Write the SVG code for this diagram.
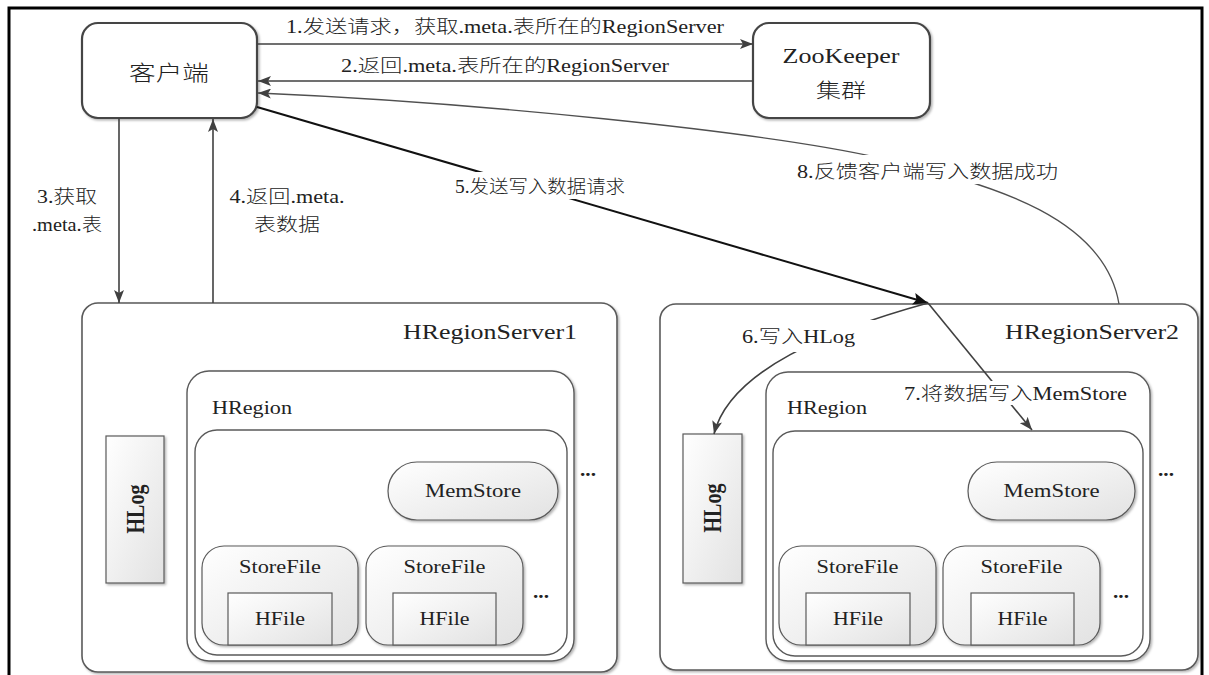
<svg xmlns="http://www.w3.org/2000/svg" width="1209" height="675" viewBox="0 0 1209 675">
<defs>
<style>
text{font-family:"Liberation Serif","Noto Sans CJK SC",serif;fill:#222;font-weight:300}
.lbl{font-size:18px}
.box{fill:#fff;stroke:#454545;stroke-width:2.2}
.srv{fill:#fff;stroke:#5a5a5a;stroke-width:1.6}
.reg{fill:#fff;stroke:#5a5a5a;stroke-width:1.4}
.comp{fill:url(#g);stroke:#5a5a5a;stroke-width:1.2}
.ln{fill:none;stroke:#404040;stroke-width:1.6}
.thin{fill:none;stroke:#505050;stroke-width:1.3}
.bk{fill:none;stroke:#111;stroke-width:2}
.bg{fill:#fff}
.dots{font-size:18px;font-weight:bold}
.sm{font-size:18px}
.hl{font-size:20px;font-weight:bold}
</style>
<linearGradient id="g" x1="0" y1="0" x2="1" y2="1"><stop offset="0" stop-color="#ffffff"/><stop offset="1" stop-color="#e2e2e2"/></linearGradient>
<filter id="sh" x="-5%" y="-5%" width="115%" height="115%"><feDropShadow dx="1.5" dy="1.5" stdDeviation="1.2" flood-color="#000" flood-opacity="0.3"/></filter>
<marker id="ah" markerUnits="userSpaceOnUse" markerWidth="14" markerHeight="10" refX="13" refY="5" orient="auto"><path d="M0,0 L13,5 L0,10 L3,5 z" fill="#404040"/></marker>
<marker id="ahk" markerUnits="userSpaceOnUse" markerWidth="16" markerHeight="12" refX="15" refY="6" orient="auto"><path d="M0,0 L15,6 L0,12 L3,6 z" fill="#111"/></marker>
</defs>
<rect x="0" y="0" width="1209" height="675" fill="#fff"/>
<rect x="9" y="8" width="1193" height="700" fill="none" stroke="#000" stroke-width="3"/>

<g id="client">
<rect class="box" x="82" y="23" width="175" height="95" rx="16" filter="url(#sh)"/>
<text x="169" y="80" text-anchor="middle" font-size="21" textLength="80" lengthAdjust="spacingAndGlyphs">客户端</text>
</g>
<g id="zookeeper">
<rect class="box" x="753" y="23" width="177" height="95" rx="16" filter="url(#sh)"/>
<text x="841" y="63" text-anchor="middle" font-size="22" textLength="117" lengthAdjust="spacingAndGlyphs">ZooKeeper</text>
<text x="841" y="98" text-anchor="middle" font-size="20" textLength="50" lengthAdjust="spacingAndGlyphs">集群</text>
</g>

<g id="hregionserver1">
<rect class="srv" x="82" y="303" width="535" height="369" rx="16" filter="url(#sh)"/>
<text x="403" y="339" font-size="21" textLength="174" lengthAdjust="spacingAndGlyphs">HRegionServer1</text>
<g id="hlog1">
<rect class="comp" x="106" y="436" width="58" height="147" filter="url(#sh)"/>
<text class="hl" transform="translate(135,509) scale(1.24,1) rotate(-90)" x="0" y="7" text-anchor="middle">HLog</text>
</g>
<g id="hregion1">
<rect class="reg" x="187" y="371" width="387" height="290" rx="22" filter="url(#sh)"/>
<text x="212" y="414" class="sm" textLength="80" lengthAdjust="spacingAndGlyphs">HRegion</text>
<rect class="reg" x="195" y="430" width="372" height="225" rx="22"/>
<g id="memstore1">
<rect class="comp" x="388" y="462" width="170" height="58" rx="29" filter="url(#sh)"/>
<text x="473" y="497" text-anchor="middle" class="sm" textLength="96" lengthAdjust="spacingAndGlyphs">MemStore</text>
</g>
<g id="storefile1a">
<rect class="comp" x="202" y="546" width="156" height="99" rx="22" filter="url(#sh)"/>
<text x="280" y="573" text-anchor="middle" class="sm" textLength="82" lengthAdjust="spacingAndGlyphs">StoreFile</text>
<rect class="comp" x="228" y="593" width="104" height="52"/>
<text x="280" y="625" text-anchor="middle" class="sm" textLength="50" lengthAdjust="spacingAndGlyphs">HFile</text>
</g>
<g id="storefile1b">
<rect class="comp" x="366" y="546" width="157" height="99" rx="22" filter="url(#sh)"/>
<text x="444.5" y="573" text-anchor="middle" class="sm" textLength="82" lengthAdjust="spacingAndGlyphs">StoreFile</text>
<rect class="comp" x="393" y="593" width="103" height="52"/>
<text x="444.5" y="625" text-anchor="middle" class="sm" textLength="50" lengthAdjust="spacingAndGlyphs">HFile</text>
</g>
<text x="533" y="598" class="dots" textLength="16" lengthAdjust="spacingAndGlyphs">...</text>
</g>
<text x="580" y="476" class="dots" textLength="16" lengthAdjust="spacingAndGlyphs">...</text>
</g>

<g id="hregionserver2">
<rect class="srv" x="660" y="304" width="538" height="366" rx="16" filter="url(#sh)"/>
<text x="1005" y="339" font-size="21" textLength="174" lengthAdjust="spacingAndGlyphs">HRegionServer2</text>
<g id="hlog2">
<rect class="comp" x="683" y="434" width="59" height="149" filter="url(#sh)"/>
<text class="hl" transform="translate(712.5,508) scale(1.24,1) rotate(-90)" x="0" y="7" text-anchor="middle">HLog</text>
</g>
<g id="hregion2">
<rect class="reg" x="766" y="372" width="384" height="289" rx="22" filter="url(#sh)"/>
<text x="787" y="414" class="sm" textLength="80" lengthAdjust="spacingAndGlyphs">HRegion</text>
<rect class="reg" x="773" y="431" width="370" height="225" rx="22"/>
<g id="memstore2">
<rect class="comp" x="968" y="462" width="167" height="58" rx="29" filter="url(#sh)"/>
<text x="1051.5" y="497" text-anchor="middle" class="sm" textLength="96" lengthAdjust="spacingAndGlyphs">MemStore</text>
</g>
<g id="storefile2a">
<rect class="comp" x="779" y="546" width="157" height="99" rx="22" filter="url(#sh)"/>
<text x="857.5" y="573" text-anchor="middle" class="sm" textLength="82" lengthAdjust="spacingAndGlyphs">StoreFile</text>
<rect class="comp" x="806" y="593" width="104" height="52"/>
<text x="858" y="625" text-anchor="middle" class="sm" textLength="50" lengthAdjust="spacingAndGlyphs">HFile</text>
</g>
<g id="storefile2b">
<rect class="comp" x="943" y="546" width="157" height="99" rx="22" filter="url(#sh)"/>
<text x="1021.5" y="573" text-anchor="middle" class="sm" textLength="82" lengthAdjust="spacingAndGlyphs">StoreFile</text>
<rect class="comp" x="971" y="593" width="103" height="52"/>
<text x="1022.5" y="625" text-anchor="middle" class="sm" textLength="50" lengthAdjust="spacingAndGlyphs">HFile</text>
</g>
<text x="1113" y="598" class="dots" textLength="16" lengthAdjust="spacingAndGlyphs">...</text>
</g>
<text x="1158" y="476" class="dots" textLength="16" lengthAdjust="spacingAndGlyphs">...</text>
</g>

<g id="connectors">
<path class="ln" d="M257,44 H753" marker-end="url(#ah)"/>
<path class="ln" d="M753,81 H258" marker-end="url(#ah)"/>
<path class="thin" d="M1119,304 C1105,220 1000,185 880,158 S470,102 258,93" marker-end="url(#ah)"/>
<path class="ln" d="M119,118 V303" marker-end="url(#ah)"/>
<path class="ln" d="M213,303 V119" marker-end="url(#ah)"/>
<path class="bk" d="M257,107 L928,303" marker-end="url(#ahk)"/>
<path class="ln" d="M928,303 C830,330 730,370 714,434" marker-end="url(#ah)"/>
<path class="ln" d="M928,303 L1032,430" marker-end="url(#ah)"/>
</g>

<g id="labels" class="lbl">
<text x="286" y="33" textLength="438" lengthAdjust="spacingAndGlyphs">1.发送请求，获取.meta.表所在的RegionServer</text>
<text x="341" y="72" textLength="328" lengthAdjust="spacingAndGlyphs">2.返回.meta.表所在的RegionServer</text>
<text x="67" y="203" text-anchor="middle" textLength="60" lengthAdjust="spacingAndGlyphs">3.获取</text>
<text x="67" y="231" text-anchor="middle" textLength="70" lengthAdjust="spacingAndGlyphs">.meta.表</text>
<text x="287" y="203" text-anchor="middle" textLength="115" lengthAdjust="spacingAndGlyphs">4.返回.meta.</text>
<text x="287" y="231" text-anchor="middle" textLength="66" lengthAdjust="spacingAndGlyphs">表数据</text>
<rect class="bg" x="370" y="172" width="368" height="27"/>
<text x="455" y="193" textLength="170" lengthAdjust="spacingAndGlyphs">5.发送写入数据请求</text>
<rect class="bg" x="790" y="155" width="275" height="29"/>
<text x="797" y="178" textLength="261" lengthAdjust="spacingAndGlyphs">8.反馈客户端写入数据成功</text>
<rect class="bg" x="677" y="320" width="233" height="32"/>
<text x="742" y="343" textLength="113" lengthAdjust="spacingAndGlyphs">6.写入HLog</text>
<rect class="bg" x="900" y="381" width="230" height="24"/>
<text x="904" y="400" textLength="223" lengthAdjust="spacingAndGlyphs">7.将数据写入MemStore</text>
</g>
</svg>
